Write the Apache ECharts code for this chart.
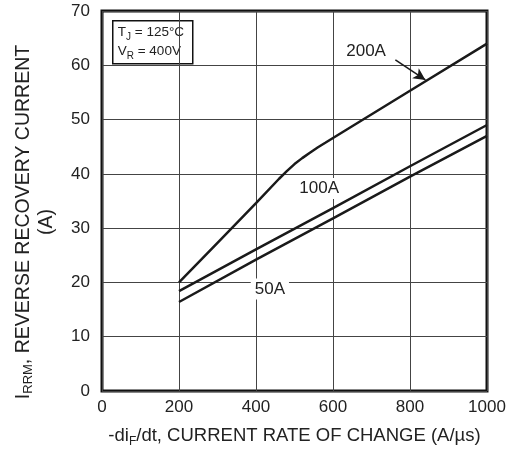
<!DOCTYPE html>
<html>
<head>
<meta charset="utf-8">
<script src="https://cdn.jsdelivr.net/npm/echarts@6/dist/echarts.min.js"></script>
<style>
  html, body { margin: 0; padding: 0; background: #fff; }
  #chart { width: 517px; height: 453px; }
</style>
</head>
<body>
<div id="chart"></div>
<script>
// values
const xTicks = [0, 200, 400, 600, 800, 1000];
const yTicks = [0, 10, 20, 30, 40, 50, 60, 70];

const curve200A = [[200, 20], [300, 27.3], [400, 34.6], [460, 39.1], [480, 40.5], [500, 41.8],
  [520, 42.9], [540, 43.9], [560, 44.85], [580, 45.72], [600, 46.6], [800, 55.3], [1000, 64]];
const curve100A = [[200, 18.4], [400, 26.1], [600, 33.7], [800, 41.4], [1000, 49]];
const curve50A = [[200, 16.4], [400, 24.2], [600, 31.8], [800, 39.5], [1000, 47]];

const font = '"Liberation Sans", Arial, sans-serif';
const lineStyle = { color: '#1a1a1a', width: 2.5 };

const chart = echarts.init(document.getElementById('chart'));

function curveLabel(text, coord) {
  return {
    symbol: 'rect',
    symbolSize: 1,
    silent: true,
    itemStyle: { color: 'transparent' },
    data: [{
      coord: coord,
      label: {
        show: true, position: 'inside', formatter: text,
        fontFamily: font, fontSize: 17, color: '#222',
        backgroundColor: '#fff', padding: [2, 4]
      }
    }]
  };
}

const subRich = (size, subSize, color, lh) => ({
  n: { fontFamily: font, fontSize: size, fill: color, color: color, lineHeight: lh, verticalAlign: 'middle' },
  s: { fontFamily: font, fontSize: subSize, fill: color, color: color, lineHeight: lh, verticalAlign: 'bottom' }
});

const option = {
  animation: false,
  backgroundColor: '#fff',
  grid: {
    left: 102, right: 30, top: 11, bottom: 58,
    show: true, borderColor: '#111', borderWidth: 3
  },
  xAxis: {
    type: 'value', min: xTicks[0], max: xTicks[xTicks.length - 1], interval: 200,
    axisLine: { show: false }, axisTick: { show: false },
    axisLabel: { fontFamily: font, fontSize: 17, color: '#222', margin: 8, formatter: v => String(v) },
    splitLine: { show: true, lineStyle: { color: '#444', width: 1 } },
    name: '{n|-di}{s|F}{n|/dt, CURRENT RATE OF CHANGE (A/µs)}',
    nameLocation: 'middle', nameGap: 33,
    nameTextStyle: { rich: subRich(18.5, 12, '#222', 24) }
  },
  yAxis: {
    type: 'value', min: yTicks[0], max: yTicks[yTicks.length - 1], interval: 10,
    axisLine: { show: false }, axisTick: { show: false },
    axisLabel: { fontFamily: font, fontSize: 17, color: '#222', margin: 12 },
    splitLine: { show: true, lineStyle: { color: '#444', width: 1 } }
  },
  series: [
    {
      name: '200A', type: 'line', data: curve200A,
      showSymbol: false, lineStyle: lineStyle,
      markPoint: curveLabel('200A', [686, 62.5]),
      markLine: {
        silent: true, symbol: ['none', 'arrow'], symbolSize: [9, 12],
        label: { show: false },
        lineStyle: { color: '#1a1a1a', width: 1.5, type: 'solid' },
        data: [[{ coord: [762, 61] }, { coord: [840, 57.3] }]]
      }
    },
    {
      name: '100A', type: 'line', data: curve100A, showSymbol: false, lineStyle: lineStyle,
      markPoint: curveLabel('100A', [564, 37.3])
    },
    {
      name: '50A', type: 'line', data: curve50A, showSymbol: false, lineStyle: lineStyle,
      markPoint: curveLabel('50A', [436, 18.8])
    }
  ],
  graphic: [
    {
      // y axis title, rotated
      type: 'text', x: 35, y: 222, rotation: Math.PI / 2,
      style: {
        text: '{n|I}{s|RRM}{n|, REVERSE RECOVERY CURRENT}\n{n|(A)}',
        align: 'center', verticalAlign: 'middle',
        rich: subRich(19.5, 13, '#222', 23)
      }
    },
    {
      type: 'group', left: 112, top: 20,
      children: [
        { type: 'rect', shape: { width: 80, height: 43 }, style: { fill: '#fff', stroke: '#111', lineWidth: 1.5 } },
        {
          type: 'text', x: 5, y: 2,
          style: {
            text: '{n|T}{s|J}{n| = 125°C}\n{n|V}{s|R}{n| = 400V}',
            rich: {
              n: { fontFamily: font, fontSize: 13.5, fill: '#222', lineHeight: 19, verticalAlign: 'middle' },
              s: { fontFamily: font, fontSize: 10, fill: '#222', lineHeight: 19, verticalAlign: 'bottom' }
            }
          }
        }
      ]
    }
  ]
};

chart.setOption(option);
window.addEventListener('resize', () => chart.resize());
</script>
</body>
</html>
